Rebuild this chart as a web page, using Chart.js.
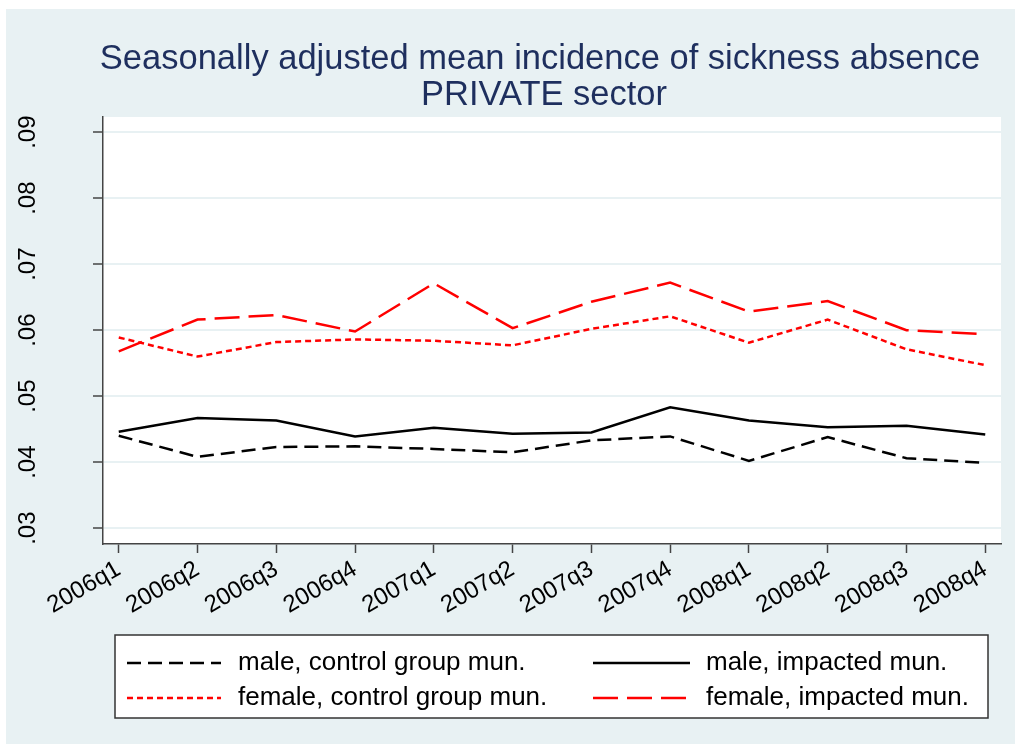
<!DOCTYPE html>
<html>
<head>
<meta charset="utf-8">
<script src="https://cdn.jsdelivr.net/npm/chart.js@4"></script>
<style>
  html, body { margin: 0; padding: 0; background: #ffffff; }
  #wrap { width: 1015px; height: 744px; }
</style>
</head>
<body>
<div id="wrap"><canvas id="sickChart" width="1015" height="744"></canvas></div>
<script>
    // quarters on the x axis
    const quarters = ['2006q1', '2006q2', '2006q3', '2006q4', '2007q1', '2007q2',
                      '2007q3', '2007q4', '2008q1', '2008q2', '2008q3', '2008q4'];
    const yTicks = [0.03, 0.04, 0.05, 0.06, 0.07, 0.08, 0.09];
    const titleLines = ['Seasonally adjusted mean incidence of sickness absence', 'PRIVATE sector'];

    // series
    const maleControl    = [0.0440, 0.0408, 0.0423, 0.0424, 0.0420, 0.0415, 0.0433, 0.0439, 0.0402, 0.0438, 0.0406, 0.0399];
    const maleImpacted   = [0.0446, 0.0467, 0.0463, 0.0439, 0.0452, 0.0443, 0.0445, 0.0483, 0.0463, 0.0453, 0.0455, 0.0442];
    const femaleControl  = [0.0589, 0.0560, 0.0582, 0.0586, 0.0584, 0.0577, 0.0602, 0.0621, 0.0581, 0.0616, 0.0571, 0.0547];
    const femaleImpacted = [0.0568, 0.0616, 0.0623, 0.0598, 0.0671, 0.0603, 0.0643, 0.0672, 0.0628, 0.0644, 0.0600, 0.0594];

    const FONT = "'Liberation Sans', Arial, sans-serif";
    const BG = '#e8f1f3';

    const toPoints = arr => arr.map((v, i) => ({ x: i, y: v }));

    // background: light blue-grey page, white plot region
    const bgPlugin = {
        id: 'bgPlugin',
        beforeDraw(chart) {
            const { ctx, chartArea } = chart;
            ctx.save();
            ctx.fillStyle = '#ffffff';
            ctx.fillRect(0, 0, chart.width, chart.height);
            ctx.fillStyle = BG;
            ctx.fillRect(6, 9, chart.width - 6, chart.height - 9);
            ctx.fillStyle = '#ffffff';
            ctx.fillRect(chartArea.left, chartArea.top, chartArea.right - chartArea.left, chartArea.bottom - chartArea.top);
            ctx.restore();
        }
    };

    // title centred a bit right of the canvas middle, like the Stata graph
    const titlePlugin = {
        id: 'titlePlugin',
        afterDraw(chart) {
            const { ctx } = chart;
            ctx.save();
            ctx.fillStyle = '#1e2f5e';
            ctx.font = '34.5px ' + FONT;
            ctx.textAlign = 'center';
            ctx.textBaseline = 'alphabetic';
            ctx.fillText(titleLines[0], 540, 69);
            ctx.fillText(titleLines[1], 544, 105);
            ctx.restore();
        }
    };

    // two-column legend in a box, Stata style
    const boxLegend = {
        id: 'boxLegend',
        afterDraw(chart) {
            const { ctx } = chart;
            const box = { x: 115, y: 635, w: 873, h: 83 };
            const rows = [663, 698];
            const cols = [{ s: 127, e: 221, t: 238 }, { s: 593, e: 690, t: 706 }];
            ctx.save();
            ctx.fillStyle = '#ffffff';
            ctx.fillRect(box.x, box.y, box.w, box.h);
            ctx.strokeStyle = '#333333';
            ctx.lineWidth = 1.5;
            ctx.strokeRect(box.x, box.y, box.w, box.h);
            chart.data.datasets.forEach((ds, i) => {
                const r = rows[Math.floor(i / 2)];
                const c = cols[i % 2];
                ctx.beginPath();
                ctx.setLineDash(ds.borderDash || []);
                ctx.strokeStyle = ds.borderColor;
                ctx.lineWidth = 2.5;
                ctx.moveTo(c.s, r);
                ctx.lineTo(c.e, r);
                ctx.stroke();
                ctx.setLineDash([]);
                ctx.fillStyle = '#000000';
                ctx.font = '26px ' + FONT;
                ctx.textBaseline = 'middle';
                ctx.textAlign = 'left';
                ctx.fillText(ds.label, c.t, r);
            });
            ctx.restore();
        }
    };

    const ctx1 = document.getElementById('sickChart').getContext('2d');

    new Chart(ctx1, {
        type: 'line',
        data: {
            datasets: [
                {
                    label: 'male, control group mun.',
                    data: toPoints(maleControl),
                    borderColor: '#000000',
                    borderDash: [14, 7],
                    borderWidth: 2.5
                },
                {
                    label: 'male, impacted mun.',
                    data: toPoints(maleImpacted),
                    borderColor: '#000000',
                    borderWidth: 2.5
                },
                {
                    label: 'female, control group mun.',
                    data: toPoints(femaleControl),
                    borderColor: '#ff0000',
                    borderDash: [6, 4],
                    borderWidth: 2.5
                },
                {
                    label: 'female, impacted mun.',
                    data: toPoints(femaleImpacted),
                    borderColor: '#ff0000',
                    borderDash: [25, 9],
                    borderWidth: 2.5
                }
            ]
        },
        options: {
            responsive: false,
            animation: false,
            layout: {
                padding: { left: 0, right: 14, top: 117, bottom: 130 }
            },
            elements: {
                point: { radius: 0 },
                line: { tension: 0, fill: false }
            },
            plugins: {
                title: { display: false },
                legend: { display: false },
                tooltip: { enabled: false }
            },
            scales: {
                x: {
                    type: 'linear',
                    min: -0.2,
                    max: 11.2,
                    afterBuildTicks: scale => { scale.ticks = quarters.map((q, i) => ({ value: i })); },
                    afterFit: scale => { scale.height = 70; },
                    ticks: {
                        autoSkip: false,
                        minRotation: 30,
                        maxRotation: 30,
                        padding: 2,
                        color: '#000000',
                        font: { family: FONT, size: 24 },
                        callback: value => quarters[value]
                    },
                    grid: {
                        drawOnChartArea: false,
                        tickLength: 9,
                        tickColor: '#444444',
                        tickWidth: 1.5
                    },
                    border: { color: '#444444', width: 1.5 }
                },
                y: {
                    min: 0.0276,
                    max: 0.0923,
                    afterBuildTicks: scale => { scale.ticks = yTicks.map(v => ({ value: v })); },
                    afterFit: scale => { scale.width = 103; },
                    ticks: {
                        minRotation: 90,
                        maxRotation: 90,
                        crossAlign: 'center',
                        padding: 48,
                        color: '#000000',
                        font: { family: FONT, size: 24 },
                        callback: value => value.toFixed(2).replace(/^0/, '')
                    },
                    grid: {
                        color: BG,
                        lineWidth: 2,
                        tickLength: 10,
                        tickColor: '#444444',
                        tickWidth: 1.5
                    },
                    border: { color: '#444444', width: 1.5 }
                }
            }
        },
        plugins: [bgPlugin, titlePlugin, boxLegend]
    });
</script>
</body>
</html>
